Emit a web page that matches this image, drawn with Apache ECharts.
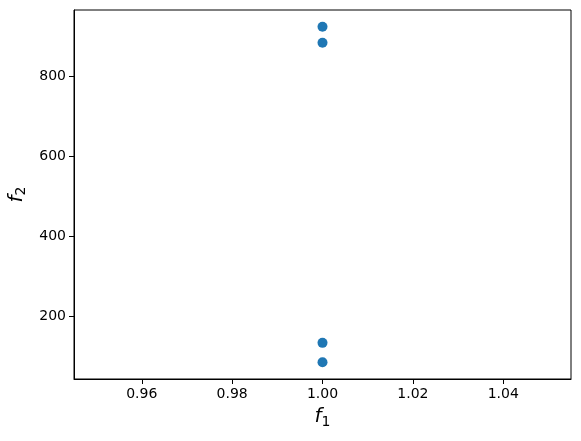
<!DOCTYPE html>
<html><head><meta charset="utf-8">
<script src="https://cdn.jsdelivr.net/npm/echarts@6/dist/echarts.min.js"></script>
<style>html,body{margin:0;padding:0;background:#fff}#c{width:581px;height:441px}</style>
</head><body><div id="c"></div>
<script>
const f1Values = [1.0, 1.0, 1.0, 1.0];
const f2Values = [925, 885, 133.5, 85];
const xTicks = [0.96, 0.98, 1.00, 1.02, 1.04];
const yTicks = [200, 400, 600, 800];
const xRange = [0.945, 1.055];
const yRange = [43, 967];

const points = f1Values.map((x, i) => [x, f2Values[i]]);
const font = 'DejaVu Sans';
const chart = echarts.init(document.getElementById('c'), null, {renderer: 'canvas'});
const richLabel = {
  f: {fontFamily: font, fontStyle: 'italic', fontSize: 20, color: '#000'},
  s: {fontFamily: font, fontSize: 14, color: '#000', padding: [10, 0, 0, 0]}
};
chart.setOption({
  animation: false,
  backgroundColor: '#fff',
  grid: {left: 74, right: 10, top: 10, bottom: 62, containLabel: false, outerBoundsMode: 'none',
    show: true, borderColor: '#000', borderWidth: 1, backgroundColor: 'transparent'},
  xAxis: {
    type: 'value', min: xRange[0], max: xRange[1],
    name: '{f|f}{s|1}', nameLocation: 'middle', nameGap: 26,
    nameTextStyle: {rich: richLabel},
    axisLine: {show: true, onZero: false, lineStyle: {color: '#000', width: 1}},
    axisTick: {show: true, length: 5, lineStyle: {color: '#000'}, customValues: xTicks},
    axisLabel: {customValues: xTicks, fontFamily: font, fontSize: 14, color: '#000', margin: 8,
      formatter: v => v.toFixed(2)},
    splitLine: {show: false}
  },
  yAxis: {
    type: 'value', min: yRange[0], max: yRange[1],
    name: '{f|f}{s|2}', nameLocation: 'middle', nameGap: 38, nameRotate: 90,
    nameTextStyle: {rich: richLabel},
    axisLine: {show: true, onZero: false, lineStyle: {color: '#000', width: 1}},
    axisTick: {show: true, length: 5, lineStyle: {color: '#000'}, customValues: yTicks},
    axisLabel: {customValues: yTicks, fontFamily: font, fontSize: 14, color: '#000', margin: 8},
    splitLine: {show: false}
  },
  series: [{
    type: 'scatter', data: points, symbol: 'circle', symbolSize: 10,
    itemStyle: {color: '#1f77b4', opacity: 1}
  }]
});
</script></body></html>
